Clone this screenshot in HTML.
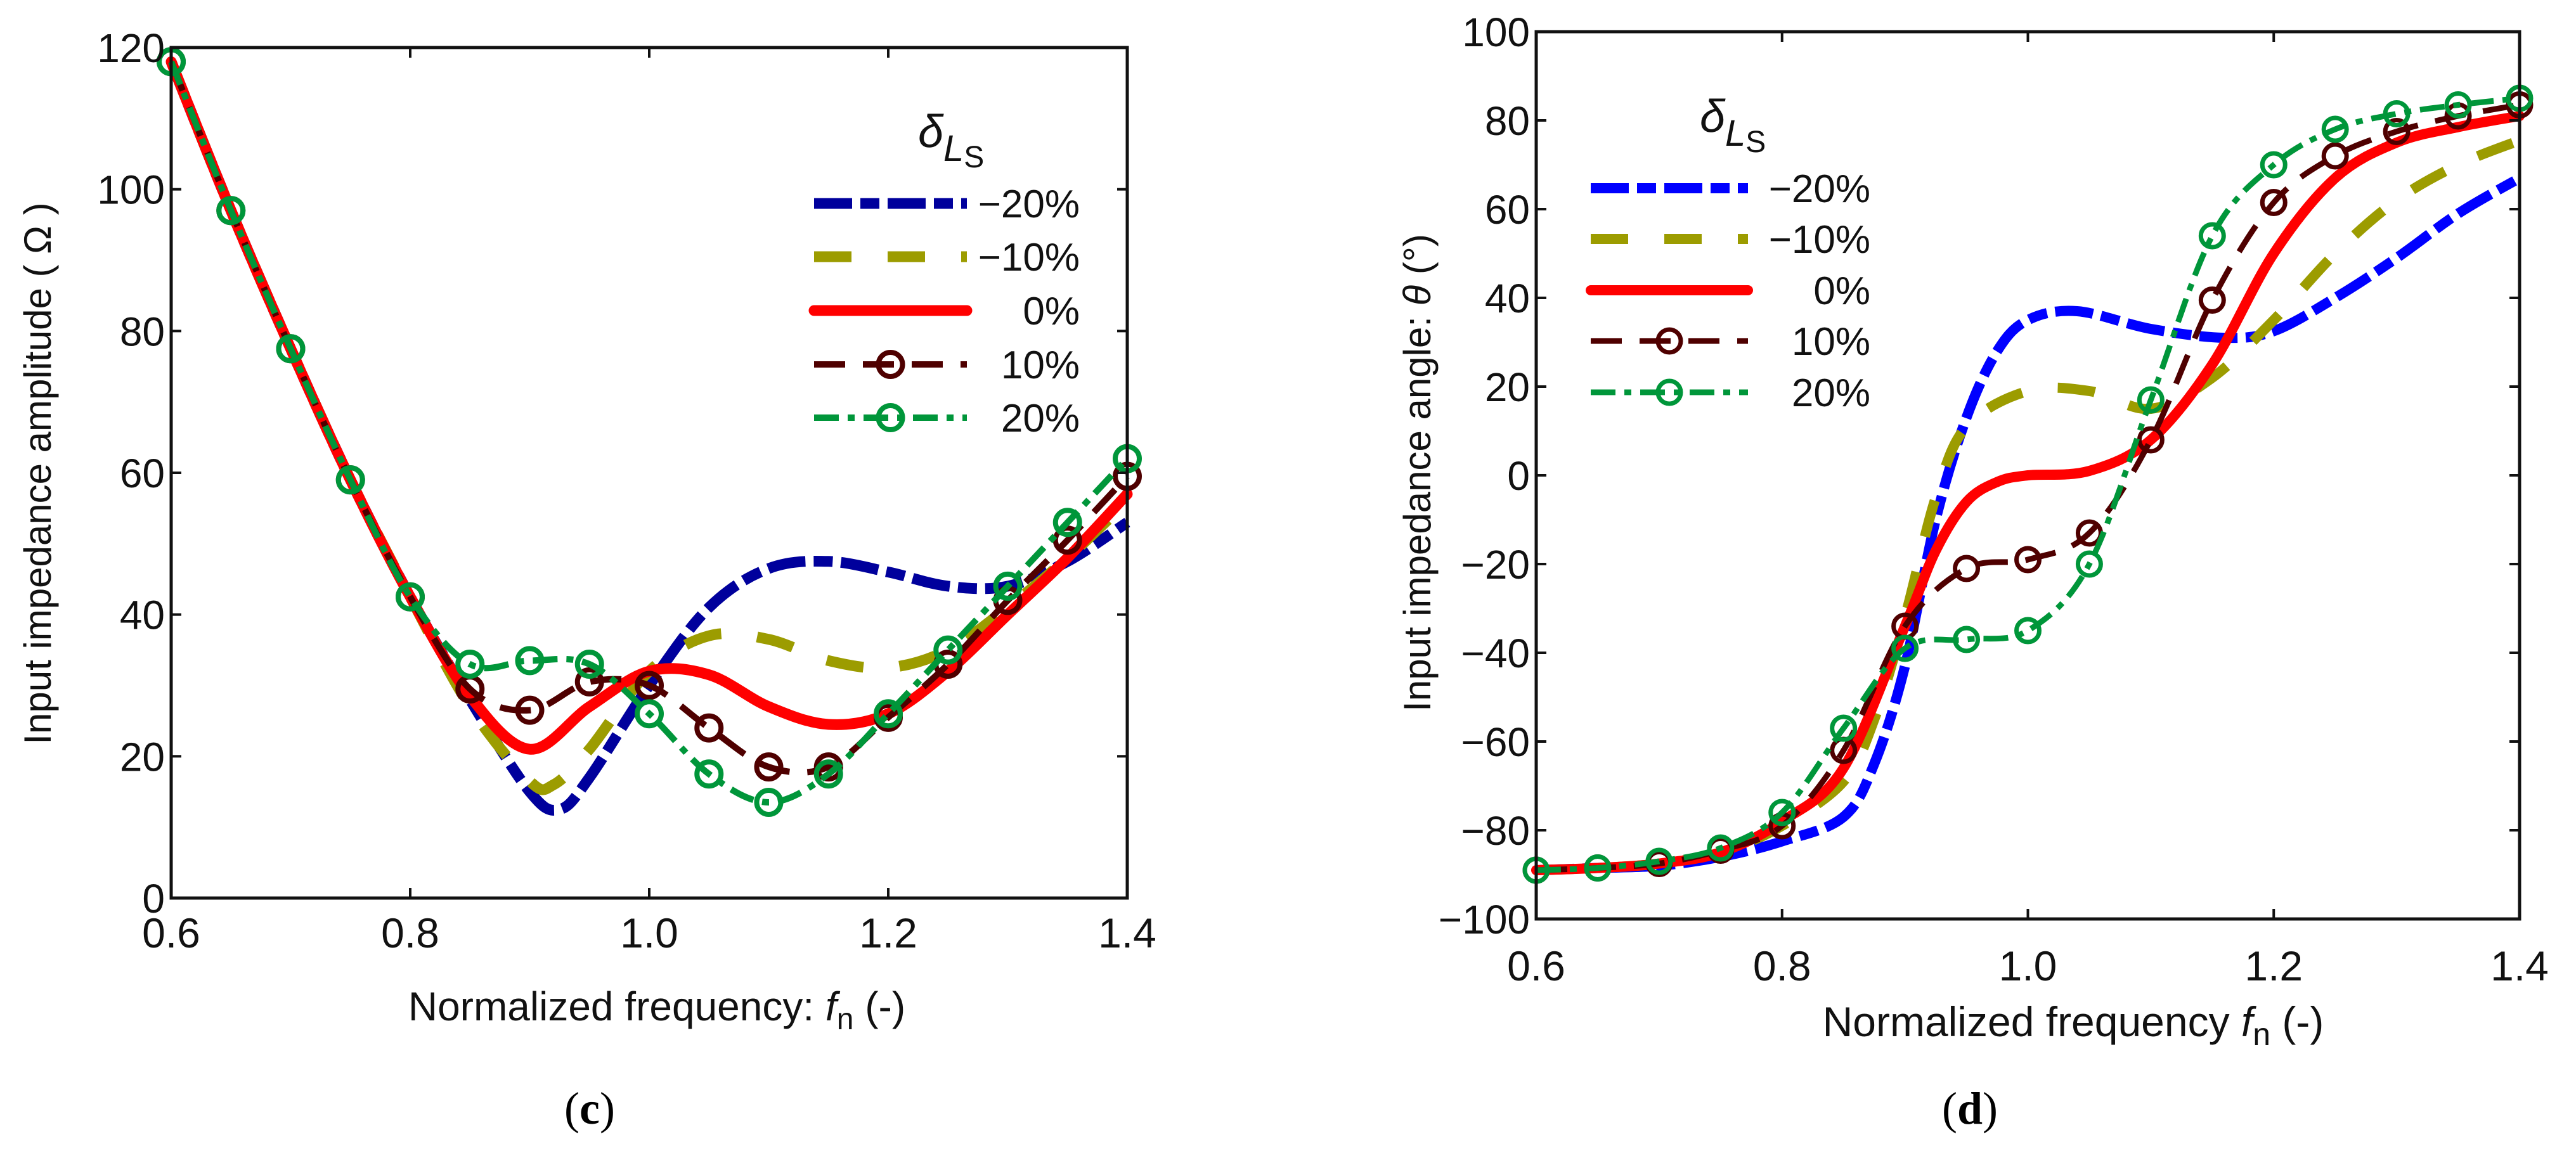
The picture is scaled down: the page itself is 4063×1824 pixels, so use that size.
<!DOCTYPE html>
<html><head><meta charset="utf-8"><style>
html,body{margin:0;padding:0;background:#fff;}
svg{display:block;font-family:"Liberation Sans",sans-serif;}
</style></head><body>
<svg id="fig" width="4063" height="1824" viewBox="0 0 4063 1824" xmlns="http://www.w3.org/2000/svg">
<g id="left"></g>
<g id="right"></g>
</svg>
<script>
// ---- data: amplitude (c) ----
const ampNegTwenty = [[0.6,118],[0.65,97],[0.7,77.5],[0.75,59],[0.8,42.5],[0.85,28],[0.9,15],[0.925,12.5],[0.95,17],[1.0,30],[1.05,41],[1.1,46.5],[1.15,47.5],[1.2,46],[1.25,44],[1.3,44],[1.35,47.5],[1.4,53]];
const ampNegTen = [[0.6,118],[0.65,97],[0.7,77.5],[0.75,59],[0.8,42.5],[0.85,27],[0.9,16.5],[0.92,16],[0.95,21],[1.0,32],[1.05,37],[1.1,36.5],[1.15,33.5],[1.2,32.5],[1.25,35],[1.3,41],[1.35,48],[1.4,56]];
const ampZero = [[0.6,118],[0.65,97],[0.7,77.5],[0.75,59],[0.8,42.5],[0.85,28.5],[0.9,21],[0.95,27],[1.0,32],[1.05,31.5],[1.1,27],[1.15,24.5],[1.2,26],[1.25,32],[1.3,40],[1.35,48],[1.4,57]];
const ampPosTen = [[0.6,118],[0.65,97],[0.7,77.5],[0.75,59],[0.8,42.5],[0.85,29.5],[0.9,26.5],[0.95,30.5],[1.0,30],[1.05,24],[1.1,18.5],[1.15,18.5],[1.2,25.5],[1.25,33],[1.3,42],[1.35,50.5],[1.4,59.5]];
const ampPosTwenty = [[0.6,118],[0.65,97],[0.7,77.5],[0.75,59],[0.8,42.5],[0.85,33],[0.9,33.5],[0.95,33],[1.0,26],[1.05,17.5],[1.1,13.5],[1.15,17.5],[1.2,26],[1.25,35],[1.3,44],[1.35,53],[1.4,62]];
// ---- data: angle (d) ----
const angNegTwenty = [[0.6,-89],[0.65,-88.5],[0.7,-88],[0.75,-86],[0.8,-82.5],[0.85,-77],[0.875,-65],[0.9,-43],[0.925,-10],[0.95,13],[0.975,28],[1.0,35],[1.04,37],[1.1,33],[1.16,31],[1.2,32.5],[1.25,40],[1.3,49],[1.35,59],[1.4,67]];
const angNegTen = [[0.6,-89],[0.65,-88.5],[0.7,-87.5],[0.75,-85],[0.8,-79],[0.85,-69],[0.875,-55],[0.9,-32],[0.925,-5],[0.95,11],[1.0,19],[1.05,19],[1.1,15],[1.15,22],[1.2,35],[1.25,50],[1.3,62],[1.35,70],[1.4,75.5]];
const angZero = [[0.6,-89],[0.65,-88.5],[0.7,-87.5],[0.75,-85],[0.8,-78],[0.85,-66],[0.9,-34],[0.925,-17],[0.95,-6],[0.975,-1.5],[1.0,0],[1.05,1],[1.1,8],[1.15,25],[1.2,50],[1.25,67],[1.3,75],[1.35,78.5],[1.4,81]];
const angPosTen = [[0.6,-89],[0.65,-88.5],[0.7,-87.5],[0.75,-84.5],[0.8,-79],[0.85,-62],[0.9,-34],[0.95,-21],[1.0,-19],[1.05,-13],[1.1,8],[1.15,39.5],[1.2,61.5],[1.25,72],[1.3,77.5],[1.35,81],[1.4,83.5]];
const angPosTwenty = [[0.6,-89],[0.65,-88.5],[0.7,-87],[0.75,-84],[0.8,-76],[0.85,-57],[0.9,-39],[0.95,-37],[1.0,-35],[1.05,-20],[1.1,17],[1.15,54],[1.2,70],[1.25,78],[1.3,81.5],[1.35,83.5],[1.4,85]];
const xTicks = [0.6,0.8,1.0,1.2,1.4];
const xTickLabels = ["0.6","0.8","1.0","1.2","1.4"];
const ampTicks = [0,20,40,60,80,100,120];
const angTicks = [-100,-80,-60,-40,-20,0,20,40,60,80,100];
const legendLabels = ["\u221220%","\u221210%","0%","10%","20%"];

const NS="http://www.w3.org/2000/svg";
function mk(parent,tag,attrs,text){const e=document.createElementNS(NS,tag);for(const k in attrs)e.setAttribute(k,attrs[k]);if(text!==undefined)e.textContent=text;parent.appendChild(e);return e;}
function smooth(pts){let d="M"+pts[0][0].toFixed(1)+","+pts[0][1].toFixed(1);
 for(let i=0;i<pts.length-1;i++){const p0=pts[Math.max(0,i-1)],p1=pts[i],p2=pts[i+1],p3=pts[Math.min(pts.length-1,i+2)];
  const c1=[p1[0]+(p2[0]-p0[0])/6,p1[1]+(p2[1]-p0[1])/6],c2=[p2[0]-(p3[0]-p1[0])/6,p2[1]-(p3[1]-p1[1])/6];
  d+=" C"+c1[0].toFixed(1)+","+c1[1].toFixed(1)+" "+c2[0].toFixed(1)+","+c2[1].toFixed(1)+" "+p2[0].toFixed(1)+","+p2[1].toFixed(1);}
 return d;}

function chart(g,cfg){
 const X=f=>cfg.x0+(f-0.6)/0.8*(cfg.x1-cfg.x0);
 const Y=v=>cfg.y1-(v-cfg.vmin)/(cfg.vmax-cfg.vmin)*(cfg.y1-cfg.y0);
 const series=cfg.series;
 series.forEach((s,i)=>{
  const pts=s.data.map(p=>[X(p[0]),Y(p[1])]);
  const p=mk(g,"path",{d:smooth(pts),fill:"none",stroke:s.color,"stroke-width":s.w,"stroke-dasharray":s.dash||"none","stroke-linecap":s.dash?"butt":"round","stroke-linejoin":"round"});
  
  
  if(s.marker){s.data.forEach(d=>{
   if(Math.abs((d[0]*20)-Math.round(d[0]*20))<1e-6){
    const c=mk(g,"circle",{cx:X(d[0]),cy:Y(d[1]),r:cfg.mr,fill:"none",stroke:s.color,"stroke-width":cfg.mw});
    
    
   }});}
 });
 const fr=mk(g,"rect",{x:cfg.x0,y:cfg.y0,width:cfg.x1-cfg.x0,height:cfg.y1-cfg.y0,fill:"none",stroke:"#111","stroke-width":5});
 
 
 xTicks.forEach((t,i)=>{
  const x=X(t);
  mk(g,"line",{x1:x,y1:cfg.y1,x2:x,y2:cfg.y1-16,stroke:"#111","stroke-width":4});
  mk(g,"line",{x1:x,y1:cfg.y0,x2:x,y2:cfg.y0+16,stroke:"#111","stroke-width":4});
  const tx=mk(g,"text",{x:x,y:cfg.xlabY,"font-size":66,"text-anchor":"middle",fill:"#111"},xTickLabels[i]);
  
  
 });
 cfg.yticks.forEach(t=>{
  const y=Y(t);
  mk(g,"line",{x1:cfg.x0,y1:y,x2:cfg.x0+16,y2:y,stroke:"#111","stroke-width":4});
  mk(g,"line",{x1:cfg.x1,y1:y,x2:cfg.x1-16,y2:y,stroke:"#111","stroke-width":4});
  const lbl=t<0?"\u2212"+Math.abs(t):String(t);
  const tx=mk(g,"text",{x:cfg.x0-10,y:y+23,"font-size":64,"text-anchor":"end",fill:"#111"},lbl);
  
  
 });
 const L=cfg.leg;
 const lt=mk(g,"text",{x:L.tx,y:L.ty,"font-size":72,"font-style":"italic",fill:"#111"});
 
 
 lt.innerHTML='δ<tspan font-size="58" dy="22">L</tspan><tspan font-size="48" dy="10" font-style="normal">S</tspan>';
 series.forEach((s,i)=>{
  const y=L.rows[i];
  const ln=mk(g,"line",{x1:L.x0,y1:y,x2:L.x1,y2:y,stroke:s.color,"stroke-width":s.w,"stroke-dasharray":s.dash||"none","stroke-linecap":s.dash?"butt":"round"});
  
  
  if(s.marker){const c=mk(g,"circle",{cx:(L.x0+L.x1)/2,cy:y,r:cfg.mr,fill:"none",stroke:s.color,"stroke-width":cfg.mw});
   
   }
  const t=mk(g,"text",{x:L.lx,y:y+22,"font-size":62,"text-anchor":"end",fill:"#111"},legendLabels[i]);
  
  
 });
}

chart(document.getElementById('left'),{x0:270,x1:1778,y0:75,y1:1417,vmin:0,vmax:120,yticks:ampTicks,xlabY:1495,mr:19,mw:8,
 series:[
  {key:'neg20',data:ampNegTwenty,color:'#00009c',w:17,dash:"60 13 30 13"},
  {key:'neg10',data:ampNegTen,color:'#9c9c00',w:17,dash:"59 57"},
  {key:'zero',data:ampZero,color:'#ff0000',w:17},
  {key:'pos10',data:ampPosTen,color:'#4f0000',w:10,dash:"49 28",marker:true},
  {key:'pos20',data:ampPosTwenty,color:'#00963a',w:10,dash:"39 14 11 14",marker:true}],
 leg:{x0:1284,x1:1525,lx:1703,rows:[321,405,490,575,659],tx:1448,ty:232}});

chart(document.getElementById('right'),{x0:2423,x1:3974,y0:50,y1:1450,vmin:-100,vmax:100,yticks:angTicks,xlabY:1547,mr:18,mw:7,
 series:[
  {key:'neg20',data:angNegTwenty,color:'#0000ff',w:16,dash:"60 13 30 13"},
  {key:'neg10',data:angNegTen,color:'#9c9c00',w:16,dash:"59 57"},
  {key:'zero',data:angZero,color:'#ff0000',w:16},
  {key:'pos10',data:angPosTen,color:'#4f0000',w:9,dash:"49 28",marker:true},
  {key:'pos20',data:angPosTwenty,color:'#00963a',w:9,dash:"39 14 11 14",marker:true}],
 leg:{x0:2509,x1:2757,lx:2950,rows:[297,377,458,538,619],tx:2681,ty:208}});

const svg=document.getElementById('fig');
function txt(attrs,html,name){const t=mk(svg,"text",attrs);t.innerHTML=html;return t;}
txt({x:1036,y:1610,"font-size":64,"text-anchor":"middle",fill:"#111"},'Normalized frequency: <tspan font-style="italic">f</tspan><tspan font-size="48" dy="14">n</tspan><tspan dy="-14"> (-)</tspan>','x-axis-title-left');
txt({x:3270,y:1635,"font-size":66,"text-anchor":"middle",fill:"#111"},'Normalized frequency  <tspan font-style="italic">f</tspan><tspan font-size="50" dy="14">n</tspan><tspan dy="-14"> (-)</tspan>','x-axis-title-right');
txt({x:0,y:0,"font-size":60,"text-anchor":"middle",fill:"#111",transform:"translate(80,747) rotate(-90)"},'Input impedance amplitude ( Ω )','y-axis-title-left');
txt({x:0,y:0,"font-size":60,"text-anchor":"middle",fill:"#111",transform:"translate(2256,746) rotate(-90)"},'Input impedance angle: <tspan font-style="italic">θ</tspan> (°)','y-axis-title-right');
txt({x:930,y:1773,"font-size":72,"text-anchor":"middle",fill:"#000","font-family":"Liberation Serif"},'(<tspan font-weight="bold">c</tspan>)','panel-label-c');
txt({x:3107,y:1773,"font-size":72,"text-anchor":"middle",fill:"#000","font-family":"Liberation Serif"},'(<tspan font-weight="bold">d</tspan>)','panel-label-d');
</script>
</body></html>
